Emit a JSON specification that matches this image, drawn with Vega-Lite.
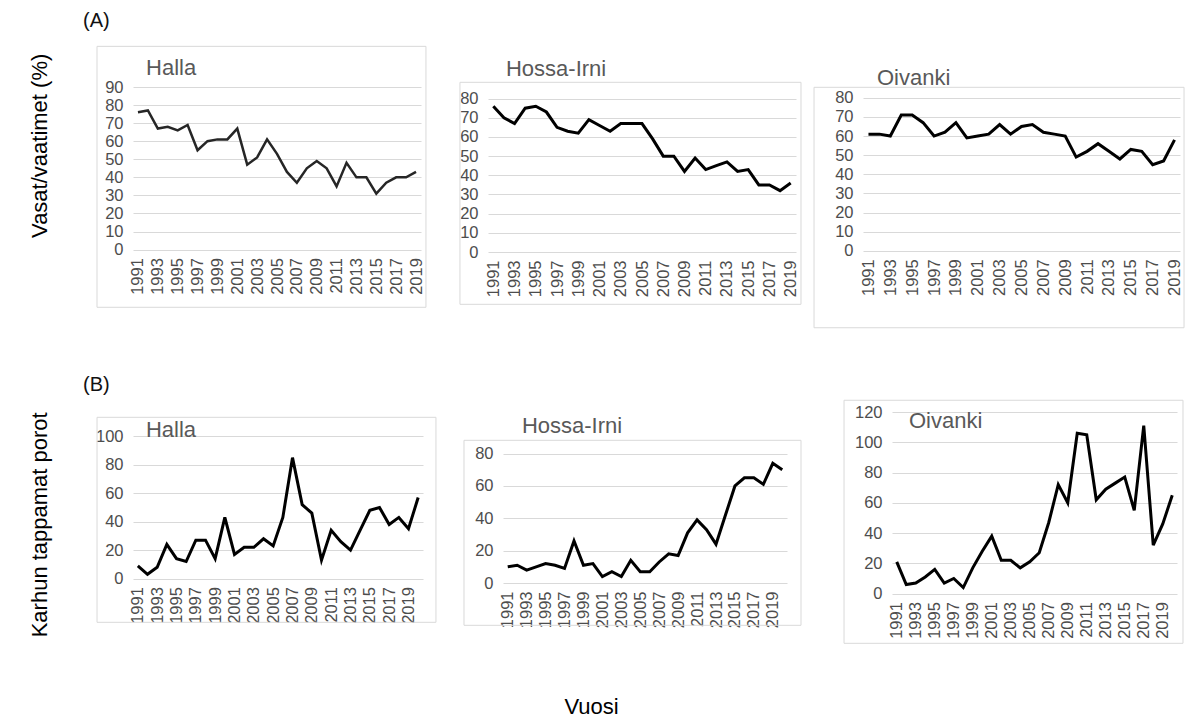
{
  "$schema": "https://vega.github.io/schema/vega-lite/v6.json",
  "background": "white",
  "autosize": {"type": "pad"},
  "padding": {"left": 27, "top": 11, "right": 0, "bottom": 0},
  "datasets": {
    "A_Halla": [
      {"year": 1991, "value": 76}, {"year": 1992, "value": 77}, {"year": 1993, "value": 67}, {"year": 1994, "value": 68}, {"year": 1995, "value": 66},
      {"year": 1996, "value": 69}, {"year": 1997, "value": 55}, {"year": 1998, "value": 60}, {"year": 1999, "value": 61}, {"year": 2000, "value": 61},
      {"year": 2001, "value": 67}, {"year": 2002, "value": 47}, {"year": 2003, "value": 51}, {"year": 2004, "value": 61}, {"year": 2005, "value": 53},
      {"year": 2006, "value": 43}, {"year": 2007, "value": 37}, {"year": 2008, "value": 45}, {"year": 2009, "value": 49}, {"year": 2010, "value": 45},
      {"year": 2011, "value": 35}, {"year": 2012, "value": 48}, {"year": 2013, "value": 40}, {"year": 2014, "value": 40}, {"year": 2015, "value": 31},
      {"year": 2016, "value": 37}, {"year": 2017, "value": 40}, {"year": 2018, "value": 40}, {"year": 2019, "value": 43}
    ],
    "A_Hossa": [
      {"year": 1991, "value": 76}, {"year": 1992, "value": 70}, {"year": 1993, "value": 67}, {"year": 1994, "value": 75}, {"year": 1995, "value": 76},
      {"year": 1996, "value": 73}, {"year": 1997, "value": 65}, {"year": 1998, "value": 63}, {"year": 1999, "value": 62}, {"year": 2000, "value": 69},
      {"year": 2001, "value": 66}, {"year": 2002, "value": 63}, {"year": 2003, "value": 67}, {"year": 2004, "value": 67}, {"year": 2005, "value": 67},
      {"year": 2006, "value": 59}, {"year": 2007, "value": 50}, {"year": 2008, "value": 50}, {"year": 2009, "value": 42}, {"year": 2010, "value": 49},
      {"year": 2011, "value": 43}, {"year": 2012, "value": 45}, {"year": 2013, "value": 47}, {"year": 2014, "value": 42}, {"year": 2015, "value": 43},
      {"year": 2016, "value": 35}, {"year": 2017, "value": 35}, {"year": 2018, "value": 32}, {"year": 2019, "value": 36}
    ],
    "A_Oivanki": [
      {"year": 1991, "value": 61}, {"year": 1992, "value": 61}, {"year": 1993, "value": 60}, {"year": 1994, "value": 71}, {"year": 1995, "value": 71},
      {"year": 1996, "value": 67}, {"year": 1997, "value": 60}, {"year": 1998, "value": 62}, {"year": 1999, "value": 67}, {"year": 2000, "value": 59},
      {"year": 2001, "value": 60}, {"year": 2002, "value": 61}, {"year": 2003, "value": 66}, {"year": 2004, "value": 61}, {"year": 2005, "value": 65},
      {"year": 2006, "value": 66}, {"year": 2007, "value": 62}, {"year": 2008, "value": 61}, {"year": 2009, "value": 60}, {"year": 2010, "value": 49},
      {"year": 2011, "value": 52}, {"year": 2012, "value": 56}, {"year": 2013, "value": 52}, {"year": 2014, "value": 48}, {"year": 2015, "value": 53},
      {"year": 2016, "value": 52}, {"year": 2017, "value": 45}, {"year": 2018, "value": 47}, {"year": 2019, "value": 58}
    ],
    "B_Halla": [
      {"year": 1991, "value": 9}, {"year": 1992, "value": 3}, {"year": 1993, "value": 8}, {"year": 1994, "value": 24}, {"year": 1995, "value": 14},
      {"year": 1996, "value": 12}, {"year": 1997, "value": 27}, {"year": 1998, "value": 27}, {"year": 1999, "value": 14}, {"year": 2000, "value": 43},
      {"year": 2001, "value": 17}, {"year": 2002, "value": 22}, {"year": 2003, "value": 22}, {"year": 2004, "value": 28}, {"year": 2005, "value": 23},
      {"year": 2006, "value": 43}, {"year": 2007, "value": 85}, {"year": 2008, "value": 52}, {"year": 2009, "value": 46}, {"year": 2010, "value": 13},
      {"year": 2011, "value": 34}, {"year": 2012, "value": 26}, {"year": 2013, "value": 20}, {"year": 2014, "value": 34}, {"year": 2015, "value": 48},
      {"year": 2016, "value": 50}, {"year": 2017, "value": 38}, {"year": 2018, "value": 43}, {"year": 2019, "value": 35}, {"year": 2020, "value": 57}
    ],
    "B_Hossa": [
      {"year": 1991, "value": 10}, {"year": 1992, "value": 11}, {"year": 1993, "value": 8}, {"year": 1994, "value": 10}, {"year": 1995, "value": 12},
      {"year": 1996, "value": 11}, {"year": 1997, "value": 9}, {"year": 1998, "value": 26}, {"year": 1999, "value": 11}, {"year": 2000, "value": 12},
      {"year": 2001, "value": 4}, {"year": 2002, "value": 7}, {"year": 2003, "value": 4}, {"year": 2004, "value": 14}, {"year": 2005, "value": 7},
      {"year": 2006, "value": 7}, {"year": 2007, "value": 13}, {"year": 2008, "value": 18}, {"year": 2009, "value": 17}, {"year": 2010, "value": 31},
      {"year": 2011, "value": 39}, {"year": 2012, "value": 33}, {"year": 2013, "value": 24}, {"year": 2014, "value": 42}, {"year": 2015, "value": 60},
      {"year": 2016, "value": 65}, {"year": 2017, "value": 65}, {"year": 2018, "value": 61}, {"year": 2019, "value": 74}, {"year": 2020, "value": 70}
    ],
    "B_Oivanki": [
      {"year": 1991, "value": 21}, {"year": 1992, "value": 6}, {"year": 1993, "value": 7}, {"year": 1994, "value": 11}, {"year": 1995, "value": 16},
      {"year": 1996, "value": 7}, {"year": 1997, "value": 10}, {"year": 1998, "value": 4}, {"year": 1999, "value": 17}, {"year": 2000, "value": 28},
      {"year": 2001, "value": 38}, {"year": 2002, "value": 22}, {"year": 2003, "value": 22}, {"year": 2004, "value": 17}, {"year": 2005, "value": 21},
      {"year": 2006, "value": 27}, {"year": 2007, "value": 47}, {"year": 2008, "value": 72}, {"year": 2009, "value": 60}, {"year": 2010, "value": 106},
      {"year": 2011, "value": 105}, {"year": 2012, "value": 62}, {"year": 2013, "value": 69}, {"year": 2014, "value": 73}, {"year": 2015, "value": 77},
      {"year": 2016, "value": 55}, {"year": 2017, "value": 111}, {"year": 2018, "value": 32}, {"year": 2019, "value": 46}, {"year": 2020, "value": 65}
    ],
    "one": [{}]
  },
  "vconcat": [
    {
      "hconcat": [
        {
          "width": 288, "height": 162.6,
          "layer": [
            {"data": {"name": "one"}, "mark": {"type": "rect", "filled": false, "stroke": "#d9d9d9", "strokeWidth": 1},
             "encoding": {
               "x": {"datum": 1986.875, "type": "quantitative", "scale": {"domain": [1990.5, 2019.5], "nice": false, "zero": false}},
               "x2": {"datum": 2020.0},
               "y": {"datum": 112.5, "type": "quantitative", "scale": {"domain": [0, 90], "nice": false, "zero": false}},
               "y2": {"datum": -31.93}}},
            {"data": {"name": "A_Halla"}, "mark": {"type": "line", "color": "#262626", "strokeWidth": 2.5},
             "encoding": {
               "x": {"field": "year", "type": "quantitative", "scale": {"domain": [1990.5, 2019.5], "nice": false, "zero": false},
                     "axis": {"values": [1991, 1993, 1995, 1997, 1999, 2001, 2003, 2005, 2007, 2009, 2011, 2013, 2015, 2017, 2019], "tickCount": 100, "format": "d", "title": null, "labelOverlap": false}},
               "y": {"field": "value", "type": "quantitative", "scale": {"domain": [0, 90], "nice": false, "zero": false},
                     "axis": {"values": [0, 10, 20, 30, 40, 50, 60, 70, 80, 90], "tickCount": 100, "labelOverlap": false, "title": "Vasat/vaatimet (%)", "titleX": -94, "titleY": 58.3, "titleAlign": "center", "titleBaseline": "middle", "titleAngle": 270}}}},
            {"data": {"name": "one"}, "mark": {"type": "text", "align": "left", "baseline": "alphabetic", "fontSize": 22, "color": "#595959"},
             "encoding": {
               "x": {"datum": 1991.81, "type": "quantitative", "scale": {"domain": [1990.5, 2019.5], "nice": false, "zero": false}},
               "y": {"datum": 96.5, "type": "quantitative", "scale": {"domain": [0, 90], "nice": false, "zero": false}},
               "text": {"value": "Halla"}}},
            {"data": {"name": "one"}, "mark": {"type": "text", "align": "left", "baseline": "alphabetic", "fontSize": 20, "color": "#111111"},
             "encoding": {
               "x": {"datum": 1985.47, "type": "quantitative", "scale": {"domain": [1990.5, 2019.5], "nice": false, "zero": false}},
               "y": {"datum": 123, "type": "quantitative", "scale": {"domain": [0, 90], "nice": false, "zero": false}},
               "text": {"value": "(A)"}}}
          ]
        },
        {
          "width": 308, "height": 165,
          "layer": [
            {"data": {"name": "one"}, "mark": {"type": "rect", "filled": false, "stroke": "#d9d9d9", "strokeWidth": 1},
             "encoding": {
               "x": {"datum": 1987.86, "type": "quantitative", "scale": {"domain": [1990.5, 2019.5], "nice": false, "zero": false}},
               "x2": {"datum": 2019.97},
               "y": {"datum": 88.5, "type": "quantitative", "scale": {"domain": [0, 86.05], "nice": false, "zero": false}},
               "y2": {"datum": -27.28}}},
            {"data": {"name": "A_Hossa"}, "mark": {"type": "line", "color": "#000000", "strokeWidth": 3},
             "encoding": {
               "x": {"field": "year", "type": "quantitative", "scale": {"domain": [1990.5, 2019.5], "nice": false, "zero": false},
                     "axis": {"values": [1991, 1993, 1995, 1997, 1999, 2001, 2003, 2005, 2007, 2009, 2011, 2013, 2015, 2017, 2019], "tickCount": 100, "format": "d", "title": null, "labelOverlap": false}},
               "y": {"field": "value", "type": "quantitative", "scale": {"domain": [0, 86.05], "nice": false, "zero": false},
                     "axis": {"values": [0, 10, 20, 30, 40, 50, 60, 70, 80], "tickCount": 100, "title": null, "labelOverlap": false}}}},
            {"data": {"name": "one"}, "mark": {"type": "text", "align": "left", "baseline": "alphabetic", "fontSize": 22, "color": "#595959"},
             "encoding": {
               "x": {"datum": 1992.19, "type": "quantitative", "scale": {"domain": [1990.5, 2019.5], "nice": false, "zero": false}},
               "y": {"datum": 91.6, "type": "quantitative", "scale": {"domain": [0, 86.05], "nice": false, "zero": false}},
               "text": {"value": "Hossa-Irni"}}}
          ]
        },
        {
          "width": 317, "height": 163.8,
          "layer": [
            {"data": {"name": "one"}, "mark": {"type": "rect", "filled": false, "stroke": "#d9d9d9", "strokeWidth": 1},
             "encoding": {
               "x": {"datum": 1986.02, "type": "quantitative", "scale": {"domain": [1990.5, 2019.5], "nice": false, "zero": false}},
               "x2": {"datum": 2019.87},
               "y": {"datum": 85.49, "type": "quantitative", "scale": {"domain": [0, 85.65], "nice": false, "zero": false}},
               "y2": {"datum": -40.24}}},
            {"data": {"name": "A_Oivanki"}, "mark": {"type": "line", "color": "#000000", "strokeWidth": 3},
             "encoding": {
               "x": {"field": "year", "type": "quantitative", "scale": {"domain": [1990.5, 2019.5], "nice": false, "zero": false},
                     "axis": {"values": [1991, 1993, 1995, 1997, 1999, 2001, 2003, 2005, 2007, 2009, 2011, 2013, 2015, 2017, 2019], "tickCount": 100, "format": "d", "title": null, "labelOverlap": false}},
               "y": {"field": "value", "type": "quantitative", "scale": {"domain": [0, 85.65], "nice": false, "zero": false},
                     "axis": {"values": [0, 10, 20, 30, 40, 50, 60, 70, 80], "tickCount": 100, "title": null, "labelOverlap": false}}}},
            {"data": {"name": "one"}, "mark": {"type": "text", "align": "left", "baseline": "alphabetic", "fontSize": 22, "color": "#595959"},
             "encoding": {
               "x": {"datum": 1991.78, "type": "quantitative", "scale": {"domain": [1990.5, 2019.5], "nice": false, "zero": false}},
               "y": {"datum": 86.5, "type": "quantitative", "scale": {"domain": [0, 85.65], "nice": false, "zero": false}},
               "text": {"value": "Oivanki"}}}
          ]
        }
      ],
      "spacing": 67,
      "bounds": "flush"
    },
    {
      "hconcat": [
        {
          "width": 290, "height": 166.6,
          "layer": [
            {"data": {"name": "one"}, "mark": {"type": "rect", "filled": false, "stroke": "#d9d9d9", "strokeWidth": 1},
             "encoding": {
               "x": {"datum": 1986.78, "type": "quantitative", "scale": {"domain": [1990.5, 2020.5], "nice": false, "zero": false}},
               "x2": {"datum": 2021.84},
               "y": {"datum": 113.35, "type": "quantitative", "scale": {"domain": [0, 117.08], "nice": false, "zero": false}},
               "y2": {"datum": -30.71}}},
            {"data": {"name": "B_Halla"}, "mark": {"type": "line", "color": "#000000", "strokeWidth": 3},
             "encoding": {
               "x": {"field": "year", "type": "quantitative", "scale": {"domain": [1990.5, 2020.5], "nice": false, "zero": false},
                     "axis": {"values": [1991, 1993, 1995, 1997, 1999, 2001, 2003, 2005, 2007, 2009, 2011, 2013, 2015, 2017, 2019], "tickCount": 100, "format": "d", "title": null, "labelOverlap": false}},
               "y": {"field": "value", "type": "quantitative", "scale": {"domain": [0, 117.08], "nice": false, "zero": false},
                     "axis": {"values": [0, 20, 40, 60, 80, 100], "tickCount": 100, "labelOverlap": false, "title": "Karhun tappamat porot", "titleX": -94, "titleY": 112.3, "titleAlign": "center", "titleBaseline": "middle", "titleAngle": 270}}}},
            {"data": {"name": "one"}, "mark": {"type": "text", "align": "left", "baseline": "alphabetic", "fontSize": 22, "color": "#595959"},
             "encoding": {
               "x": {"datum": 1991.84, "type": "quantitative", "scale": {"domain": [1990.5, 2020.5], "nice": false, "zero": false}},
               "y": {"datum": 99.3, "type": "quantitative", "scale": {"domain": [0, 117.08], "nice": false, "zero": false}},
               "text": {"value": "Halla"}}},
            {"data": {"name": "one"}, "mark": {"type": "text", "align": "left", "baseline": "alphabetic", "fontSize": 20, "color": "#111111"},
             "encoding": {
               "x": {"datum": 1985.33, "type": "quantitative", "scale": {"domain": [1990.5, 2020.5], "nice": false, "zero": false}},
               "y": {"datum": 131.6, "type": "quantitative", "scale": {"domain": [0, 117.08], "nice": false, "zero": false}},
               "text": {"value": "(B)"}}}
          ]
        },
        {
          "hconcat": [
            {
              "width": 284, "height": 171,
              "layer": [
                {"data": {"name": "one"}, "mark": {"type": "rect", "filled": false, "stroke": "#d9d9d9", "strokeWidth": 1},
                 "encoding": {
                   "x": {"datum": 1986.38, "type": "quantitative", "scale": {"domain": [1990.5, 2020.5], "nice": false, "zero": false}},
                   "x2": {"datum": 2021.98},
                   "y": {"datum": 88.22, "type": "quantitative", "scale": {"domain": [0, 105.72], "nice": false, "zero": false}},
                   "y2": {"datum": -26.15}}},
                {"data": {"name": "B_Hossa"}, "mark": {"type": "line", "color": "#000000", "strokeWidth": 3},
                 "encoding": {
                   "x": {"field": "year", "type": "quantitative", "scale": {"domain": [1990.5, 2020.5], "nice": false, "zero": false},
                         "axis": {"values": [1991, 1993, 1995, 1997, 1999, 2001, 2003, 2005, 2007, 2009, 2011, 2013, 2015, 2017, 2019], "tickCount": 100, "format": "d", "labelOverlap": false, "title": "Vuosi", "titleX": 88, "titleY": 123.3, "titleAlign": "center", "titleBaseline": "middle", "titleAngle": 0}},
                   "y": {"field": "value", "type": "quantitative", "scale": {"domain": [0, 105.72], "nice": false, "zero": false},
                         "axis": {"values": [0, 20, 40, 60, 80], "tickCount": 100, "title": null, "labelOverlap": false}}}},
                {"data": {"name": "one"}, "mark": {"type": "text", "align": "left", "baseline": "alphabetic", "fontSize": 22, "color": "#595959"},
                 "encoding": {
                   "x": {"datum": 1992.5, "type": "quantitative", "scale": {"domain": [1990.5, 2020.5], "nice": false, "zero": false}},
                   "y": {"datum": 92.55, "type": "quantitative", "scale": {"domain": [0, 105.72], "nice": false, "zero": false}},
                   "text": {"value": "Hossa-Irni"}}}
              ]
            },
            {
              "width": 285, "height": 181.6,
              "layer": [
                {"data": {"name": "one"}, "mark": {"type": "rect", "filled": false, "stroke": "#d9d9d9", "strokeWidth": 1},
                 "encoding": {
                   "x": {"datum": 1985.45, "type": "quantitative", "scale": {"domain": [1990.5, 2020.5], "nice": false, "zero": false}},
                   "x2": {"datum": 2021.13},
                   "y": {"datum": 127.76, "type": "quantitative", "scale": {"domain": [0, 120], "nice": false, "zero": false}},
                   "y2": {"datum": -32.85}}},
                {"data": {"name": "B_Oivanki"}, "mark": {"type": "line", "color": "#000000", "strokeWidth": 3},
                 "encoding": {
                   "x": {"field": "year", "type": "quantitative", "scale": {"domain": [1990.5, 2020.5], "nice": false, "zero": false},
                         "axis": {"values": [1991, 1993, 1995, 1997, 1999, 2001, 2003, 2005, 2007, 2009, 2011, 2013, 2015, 2017, 2019], "tickCount": 100, "format": "d", "title": null, "labelOverlap": false}},
                   "y": {"field": "value", "type": "quantitative", "scale": {"domain": [0, 120], "nice": false, "zero": false},
                         "axis": {"values": [0, 20, 40, 60, 80, 100, 120], "tickCount": 100, "title": null, "labelOverlap": false}}}},
                {"data": {"name": "one"}, "mark": {"type": "text", "align": "left", "baseline": "alphabetic", "fontSize": 22, "color": "#595959"},
                 "encoding": {
                   "x": {"datum": 1992.29, "type": "quantitative", "scale": {"domain": [1990.5, 2020.5], "nice": false, "zero": false}},
                   "y": {"datum": 109.25, "type": "quantitative", "scale": {"domain": [0, 120], "nice": false, "zero": false}},
                   "text": {"value": "Oivanki"}}}
              ]
            }
          ],
          "spacing": 105,
          "bounds": "flush"
        }
      ],
      "spacing": 80,
      "bounds": "flush"
    }
  ],
  "spacing": 325,
  "bounds": "flush",
  "config": {
    "view": {"stroke": null},
    "font": "Liberation Sans",
    "text": {"font": "Liberation Sans"},
    "axis": {
      "ticks": false,
      "domain": false,
      "labelFont": "Liberation Sans",
      "labelFontSize": 16.5,
      "labelColor": "#4d4d4d",
      "labelOverlap": false,
      "labelFlush": false,
      "gridColor": "#d9d9d9",
      "gridWidth": 1,
      "titleFont": "Liberation Sans",
      "titleFontSize": 22,
      "titleFontWeight": "normal",
      "titleColor": "#000000"
    },
    "axisX": {"grid": false, "labelAngle": 270, "labelPadding": 8},
    "axisY": {"grid": true, "labelPadding": 10}
  }
}
